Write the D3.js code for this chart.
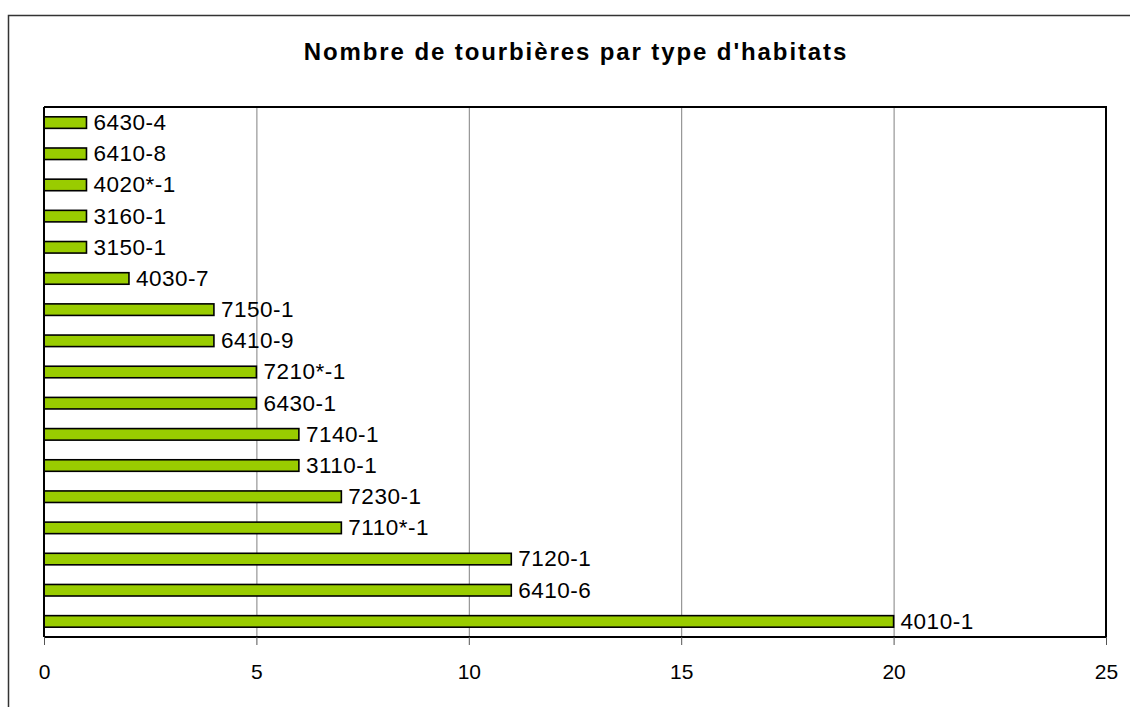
<!DOCTYPE html>
<html>
<head>
<meta charset="utf-8">
<script src="https://cdn.jsdelivr.net/npm/d3@7"></script>
<style>
  html, body { margin: 0; padding: 0; background: #fff; }
  svg { display: block; font-family: "Liberation Sans", Arial, sans-serif; }
</style>
</head>
<body>
<svg id="chart" width="1130" height="707"></svg>
<script>
// Habitat types, listed from top to bottom
const habitats = ["6430-4", "6410-8", "4020*-1", "3160-1", "3150-1", "4030-7", "7150-1",
  "6410-9", "7210*-1", "6430-1", "7140-1", "3110-1", "7230-1", "7110*-1", "7120-1",
  "6410-6", "4010-1"];
// Number of peat bogs for each habitat type
const counts = [1, 1, 1, 1, 1, 2, 4, 4, 5, 5, 6, 6, 7, 7, 11, 11, 20];
const xTicks = [0, 5, 10, 15, 20, 25];
const title = "Nombre de tourbières par type d'habitats";

const svg = d3.select("#chart");
const plot = { left: 44, right: 1106, top: 107, bottom: 637 };

// Outer chart frame (runs off the right and bottom edges)
svg.append("rect")
  .attr("x", 8.5).attr("y", 15.5)
  .attr("width", 1200).attr("height", 800)
  .attr("fill", "#fff").attr("stroke", "#333").attr("stroke-width", 1.5);

svg.append("text")
  .attr("x", 576).attr("y", 60)
  .attr("text-anchor", "middle")
  .attr("font-size", 24).attr("font-weight", "bold")
  .attr("letter-spacing", 1.9)
  .text(title);

const x = d3.scaleLinear().domain([0, 25]).range([plot.left, plot.right]);
const y = d3.scaleBand().domain(habitats).range([plot.top, plot.bottom]).paddingInner(0.63).paddingOuter(0.315);

// Vertical gridlines
svg.append("g")
  .selectAll("line")
  .data(xTicks.slice(1, -1))
  .join("line")
  .attr("x1", d => x(d) + 0.5).attr("x2", d => x(d) + 0.5)
  .attr("y1", plot.top).attr("y2", plot.bottom)
  .attr("stroke", "#808080").attr("stroke-width", 1);

// Plot area top and right border
svg.append("path")
  .attr("d", `M${plot.left},${plot.top}H${plot.right}V${plot.bottom}`)
  .attr("fill", "none").attr("stroke", "#000").attr("stroke-width", 2);

// Bars
svg.append("g")
  .selectAll("rect")
  .data(habitats)
  .join("rect")
  .attr("x", x(0))
  .attr("y", d => y(d))
  .attr("width", (d, i) => x(counts[i]) - x(0))
  .attr("height", y.bandwidth())
  .attr("fill", "#99cc00")
  .attr("stroke", "#000").attr("stroke-width", 1.6);

// Category labels at bar ends
svg.append("g")
  .selectAll("text")
  .data(habitats)
  .join("text")
  .attr("x", (d, i) => x(counts[i]) + 7)
  .attr("y", d => y(d) + y.bandwidth() / 2)
  .attr("dy", "0.33em")
  .attr("font-size", 22.5)
  .attr("letter-spacing", 0.5)
  .text(d => d);

// Value axis
const axis = svg.append("g")
  .attr("transform", `translate(0,${plot.bottom})`)
  .call(d3.axisBottom(x).tickValues(xTicks).tickSize(8).tickPadding(19).tickFormat(d3.format("d")));
axis.select(".domain").attr("stroke", "#000").attr("stroke-width", 2).attr("d", `M${plot.left},0H${plot.right}`);
axis.selectAll(".tick line").attr("stroke", "#555");
axis.selectAll(".tick text").attr("font-size", 21).attr("fill", "#000")
  .attr("font-family", "'Liberation Sans', Arial, sans-serif");

// Category axis line
svg.append("line")
  .attr("x1", plot.left).attr("x2", plot.left)
  .attr("y1", plot.top).attr("y2", plot.bottom)
  .attr("stroke", "#000").attr("stroke-width", 2);
</script>
</body>
</html>
